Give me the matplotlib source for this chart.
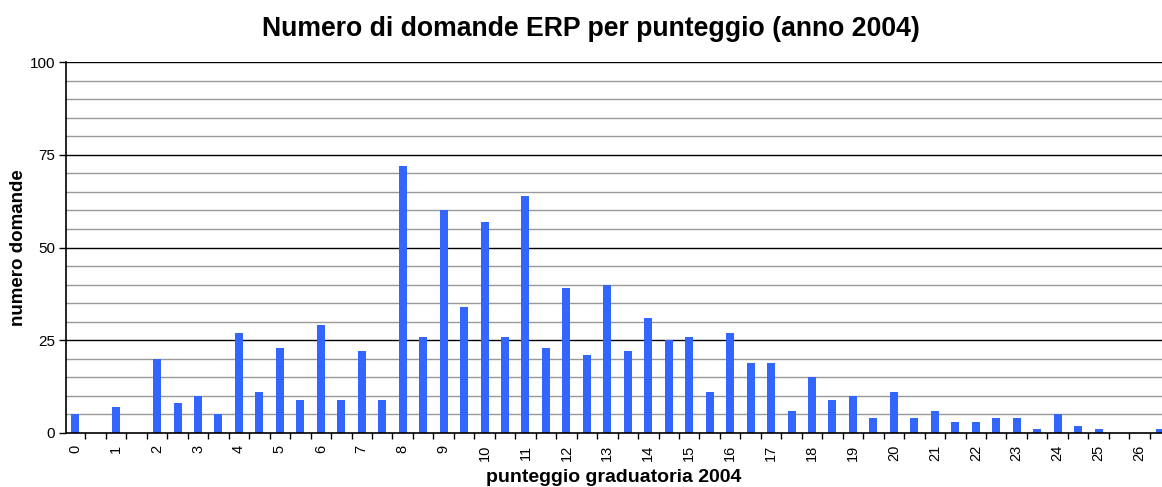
import numpy as np
import matplotlib.pyplot as plt

plt.rcParams["font.family"] = ["Liberation Sans", "DejaVu Sans"]

# Data (scores step 0.5)

scores = [i * 0.5 for i in range(54)]
counts = [
    5, 0, 7, 0, 20, 8, 10, 5, 27, 11,
    23, 9, 29, 9, 22, 9, 72, 26, 60, 34,
    57, 26, 64, 23, 39, 21, 40, 22, 31, 25,
    26, 11, 27, 19, 19, 6, 15, 9, 10, 4,
    11, 4, 6, 3, 3, 4, 4, 1, 5, 2,
    1, 0, 0, 1,
]
tick_labels = [str(int(s)) for s in scores if s == int(s)]

TITLE  = "Numero di domande ERP per punteggio (anno 2004)"
XLABEL = "punteggio graduatoria 2004"
YLABEL = "numero domande"
BAR_COLOR = "#3366FF"


fig = plt.figure(figsize=(11.62, 4.87), dpi=100)
ax = fig.add_axes([66 / 1162, 54 / 487, 1 - 66 / 1162, 371 / 487])

pos = np.arange(len(scores))
ax.bar(pos, counts, width=0.39, color=BAR_COLOR, zorder=3)

# gridlines: light every 5, dark every 25
for y in range(5, 101, 5):
    if y % 25 == 0:
        ax.axhline(y, color="black", lw=1.0, zorder=1)
    else:
        ax.axhline(y, color="#999999", lw=1.0, zorder=1)

ax.set_ylim(0, 100)
ax.set_yticks([0, 25, 50, 75, 100])
ax.set_xlim(-0.45, 53.1)

# ticks between categories, labels on whole scores
ax.set_xticks(pos[:-1] + 0.5)
ax.set_xticklabels([])
ax.set_xticks(pos[::2], minor=True)
ax.set_xticklabels(tick_labels, minor=True, rotation=90, fontsize=10.5)
ax.tick_params(axis="x", which="major", direction="out", length=4, width=1)
ax.tick_params(axis="x", which="minor", length=0, pad=8.5)
ax.tick_params(axis="y", direction="out", length=5, width=1, labelsize=11, pad=3)

for side in ["top", "right"]:
    ax.spines[side].set_visible(False)
for side in ["left", "bottom"]:
    ax.spines[side].set_linewidth(1.2)
    ax.spines[side].set_zorder(4)

ax.set_xlabel(XLABEL, fontsize=14, fontweight="bold")
ax.xaxis.label.set_va("center")
ax.xaxis.set_label_coords(0.5, -(477 - 433) / 371)
ax.set_ylabel(YLABEL, fontsize=13.5, fontweight="bold")
ax.yaxis.label.set_va("center")
ax.yaxis.set_label_coords(-(66 - 19) / 1096, 0.5)

fig.text(591 / 1162, 1 - 29 / 487, TITLE, fontsize=19.2, fontweight="bold",
         ha="center", va="center")

fig.savefig("out.png", dpi=100)
